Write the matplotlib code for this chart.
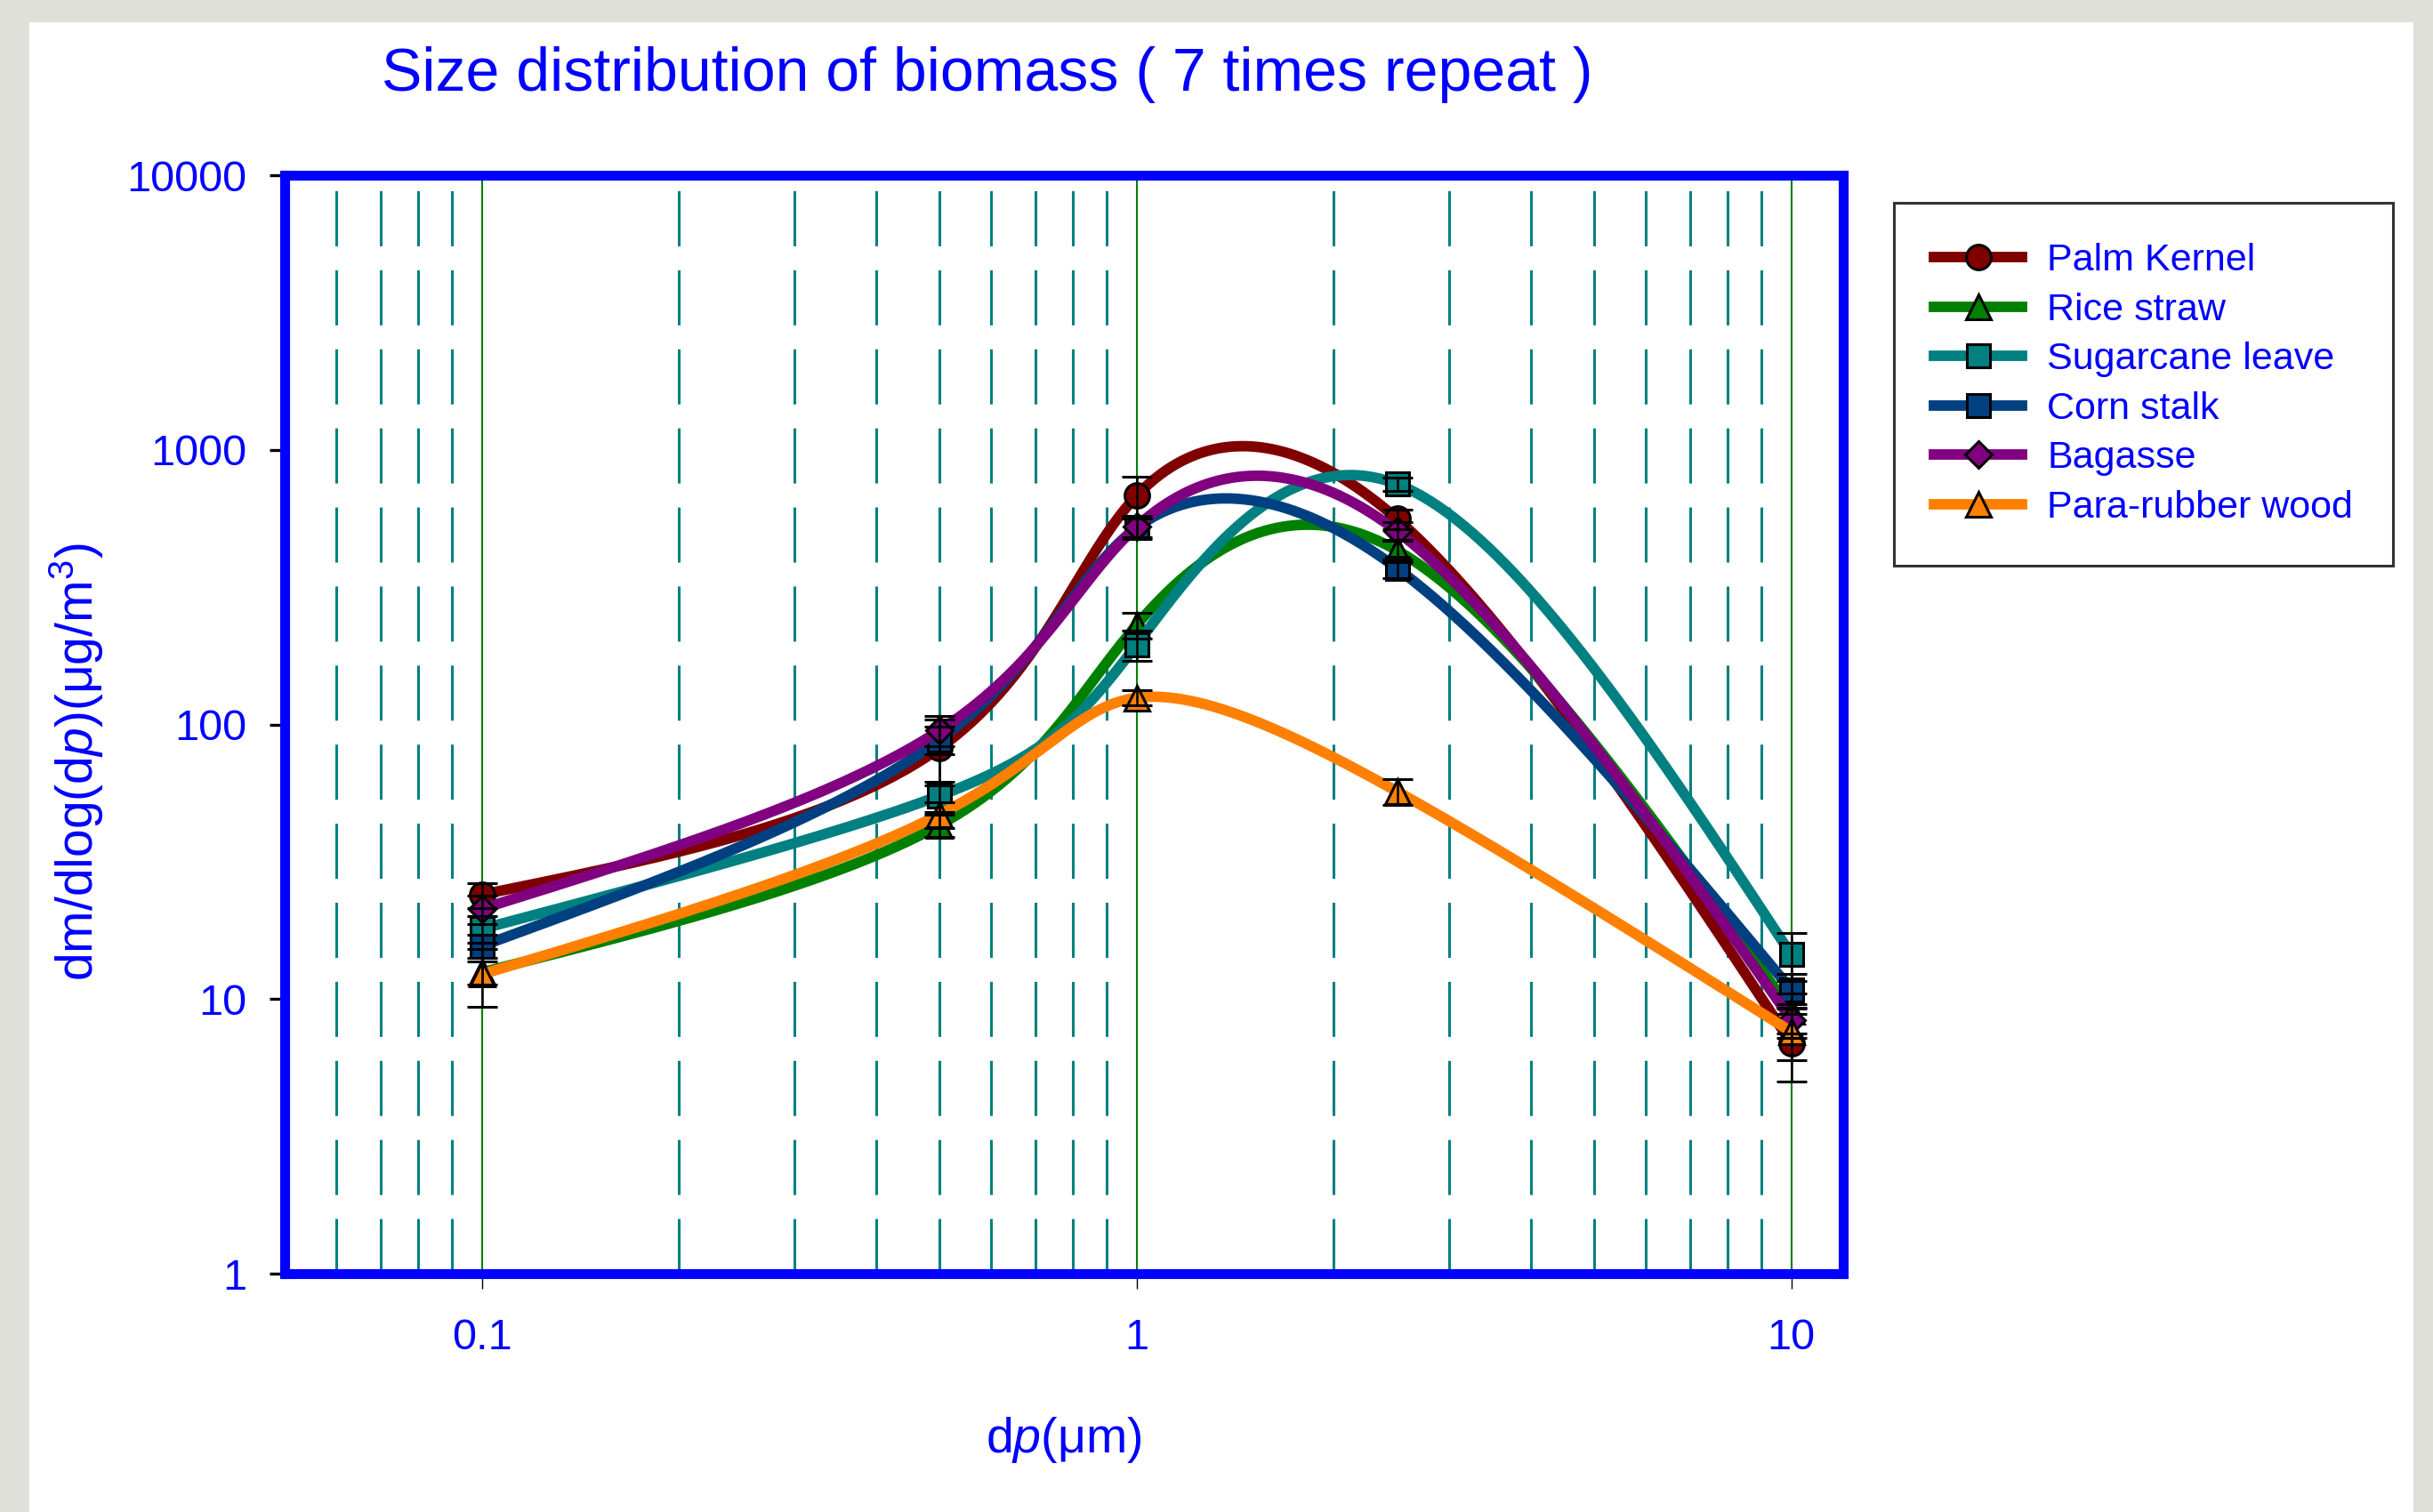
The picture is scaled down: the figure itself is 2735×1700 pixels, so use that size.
import matplotlib
matplotlib.use('Agg')
import matplotlib.pyplot as plt
from matplotlib.lines import Line2D
from matplotlib.patches import Rectangle
import numpy as np

plt.rcParams['font.family'] = ['Liberation Sans', 'DejaVu Sans']
plt.rcParams['mathtext.fontset'] = 'custom'
plt.rcParams['mathtext.rm'] = 'Liberation Sans'
plt.rcParams['mathtext.it'] = 'Liberation Sans:italic'
plt.rcParams['lines.scale_dashes'] = False

# particle size (um)
dp = [0.1, 0.5, 1.0, 2.5, 10.0]

names = ['Palm Kernel', 'Rice straw', 'Sugarcane leave', 'Corn stalk', 'Bagasse', 'Para-rubber wood']
palm_kernel = [24, 82, 680, 560, 6.9]
rice_straw = [12.5, 43, 230, 430, 9.0]
sugarcane_leave = [18, 55, 195, 750, 14.5]
corn_stalk = [15.6, 88, 520, 370, 10.8]
bagasse = [21.3, 95, 525, 505, 8.4]
para_rubber = [12.3, 47, 125, 57, 7.6]

palm_kernel_err = [2.5, 22, 120, 45, 1.9]
rice_straw_err = [1.2, 4, 25, 40, 1.5]
sugarcane_leave_err = [2, 7, 25, 40, 2.9]
corn_stalk_err = [1.5, 10, 40, 30, 1.5]
bagasse_err = [2.5, 12, 50, 40, 1.2]
para_rubber_err = [2.9, 5, 8, 6, 1.6]

colors = ['#800000', '#008000', '#008080', '#004080', '#800080', '#ff8000']
markers = ['o', '^', 's', 's', 'D', '^']
msizes = [20, 20, 19, 19, 15, 20]

series = [palm_kernel, rice_straw, sugarcane_leave, corn_stalk, bagasse, para_rubber]
errors = [palm_kernel_err, rice_straw_err, sugarcane_leave_err, corn_stalk_err, bagasse_err, para_rubber_err]


def natural_spline(x, y, xs):
    # natural cubic spline through (x, y), evaluated at xs
    n = len(x)
    h = np.diff(x)
    A = np.zeros((n, n))
    r = np.zeros(n)
    A[0, 0] = 1
    A[-1, -1] = 1
    for i in range(1, n - 1):
        A[i, i - 1] = h[i - 1]
        A[i, i] = 2 * (h[i - 1] + h[i])
        A[i, i + 1] = h[i]
        r[i] = 3 * ((y[i + 1] - y[i]) / h[i] - (y[i] - y[i - 1]) / h[i - 1])
    c = np.linalg.solve(A, r)
    b = (y[1:] - y[:-1]) / h - h * (2 * c[:-1] + c[1:]) / 3
    d = (c[1:] - c[:-1]) / (3 * h)
    idx = np.clip(np.searchsorted(x, xs) - 1, 0, n - 2)
    t = xs - x[idx]
    return y[idx] + b[idx] * t + c[idx] * t ** 2 + d[idx] * t ** 3


def smooth_curve(x, y):
    # parametric spline, uniform parameter, in log-log space
    u = np.log10(x)
    v = np.log10(y)
    t = np.arange(len(u), dtype=float)
    ts = np.linspace(0, t[-1], 600)
    return 10 ** natural_spline(t, u, ts), 10 ** natural_spline(t, v, ts)


W, H = 2735, 1700
fig = plt.figure(figsize=(W / 100, H / 100), dpi=100)
fig.patch.set_facecolor('#e0e0da')
fig.patches.append(Rectangle((33 / W, 0), (2713 - 33) / W, 1 - 25 / H,
                             transform=fig.transFigure, facecolor='white',
                             edgecolor='none', zorder=-10))

l, r, t, b = 320, 2072, 197, 1432
ax = fig.add_axes([l / W, 1 - b / H, (r - l) / W, (b - t) / H])
ax.set_facecolor('none')
ax.set_xscale('log')
ax.set_yscale('log')
ax.set_xlim(0.05, 12)
ax.set_ylim(1, 10000)

for s in ax.spines.values():
    s.set_color('#0000ff')
    s.set_linewidth(8)

ax.set_xticks([0.1, 1, 10])
ax.set_xticklabels(['0.1', '1', '10'])
minor_x = [0.06, 0.07, 0.08, 0.09, 0.2, 0.3, 0.4, 0.5, 0.6, 0.7, 0.8, 0.9,
           2, 3, 4, 5, 6, 7, 8, 9]
ax.set_xticks(minor_x, minor=True)
ax.set_yticks([1, 10, 100, 1000, 10000])
ax.set_yticklabels(['1', '10', '100', '1000', '10000'])
ax.yaxis.set_minor_locator(matplotlib.ticker.NullLocator())

ax.tick_params(axis='x', which='major', direction='out', length=12, width=1,
               color='black', labelcolor='#0000ff', labelsize=35, pad=24)
ax.tick_params(axis='x', which='minor', length=0)
ax.tick_params(axis='y', which='major', direction='out', length=12, width=2.4,
               color='black', labelcolor='#0000ff', labelsize=35, pad=19)

ax.grid(False)
ax.xaxis.grid(True, which='major', color='#008000', linewidth=1.5, linestyle='-')
ax.xaxis.grid(True, which='minor', color='#008080', linewidth=2.2,
              linestyle=(0, (44.6, 19.4)))
ax.set_axisbelow(True)

handles = []
for i in range(len(names)):
    cx, cy = smooth_curve(dp, series[i])
    ax.plot(cx, cy, color=colors[i], linewidth=8.5,
            solid_capstyle='round', zorder=3)
    ax.plot(dp, series[i], linestyle='none', marker=markers[i],
            markersize=msizes[i], markerfacecolor=colors[i],
            markeredgecolor='black', markeredgewidth=2.2, zorder=3)
    handles.append(Line2D([], [], color=colors[i], linewidth=8.5,
                          marker=markers[i], markersize=msizes[i],
                          markerfacecolor=colors[i], markeredgecolor='black',
                          markeredgewidth=2.2))

for i in range(len(names)):
    ax.errorbar(dp, series[i], yerr=errors[i], fmt='none', ecolor='black',
                elinewidth=1.8, capsize=12.5, capthick=2.2, zorder=5)

leg = ax.legend(handles, names, loc='upper left',
                bbox_to_anchor=(2129 / W, 1 - 228 / H),
                bbox_transform=fig.transFigure, fontsize=31, frameon=True,
                fancybox=False, borderaxespad=0, borderpad=1.05,
                handlelength=2.3, handletextpad=0.65, labelspacing=0.36,
                numpoints=1)
leg.get_frame().set_edgecolor('black')
leg.get_frame().set_linewidth(2.2)
for txt in leg.get_texts():
    txt.set_color('#0000ff')

fig.text(1110 / W, 1 - 102 / H, 'Size distribution of biomass ( 7 times repeat )',
         ha='center', va='baseline', fontsize=49, color='#0000ff')
fig.text(1196 / W, 1 - 1633 / H, r'd$\it{p}$(μm)', ha='center', va='baseline',
         fontsize=40, color='#0000ff')
fig.text(86 / W, 1 - 857 / H, r'dm/dlog(d$\it{p}$)(μg/m$^{3}$)', ha='center',
         va='center', rotation=90, fontsize=41, color='#0000ff')

fig.savefig('out.png', dpi=100, facecolor=fig.get_facecolor())
